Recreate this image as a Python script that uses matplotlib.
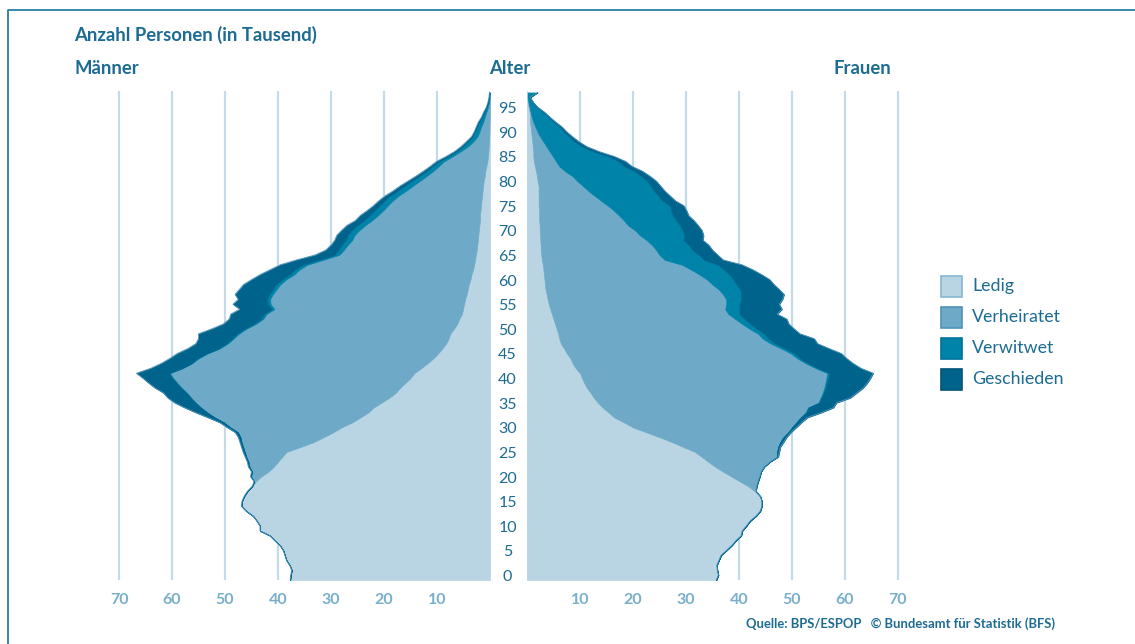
import numpy as np
import matplotlib
matplotlib.use("Agg")
import matplotlib.pyplot as plt
import matplotlib.transforms as mtransforms
from matplotlib.patches import Rectangle
from matplotlib.lines import Line2D

plt.rcParams['font.family'] = ['Lato', 'DejaVu Sans']

# ages 0..99 (99 = 99+)
ages = list(range(100))

# Männer, in Tausend
m_ledig = [37.7, 37.6, 37.4, 37.8, 38.4, 38.7, 39.0, 39.6, 40.6, 41.5,
           43.4, 43.4, 44.0, 44.7, 46.0, 46.9, 46.8, 46.4, 45.8, 44.9,
           44.2, 43.2, 41.8, 40.8, 40.0, 39.2, 38.4, 35.8, 33.3, 31.4,
           29.6, 28.0, 26.0, 24.5, 23.0, 22.0, 20.5, 19.0, 17.8, 17.0,
           16.0, 15.0, 14.3, 13.0, 11.8, 10.7, 9.8, 9.0, 8.3, 7.8,
           7.5, 6.8, 6.2, 5.8, 5.3, 5.1, 4.9, 4.7, 4.4, 4.2,
           4.0, 3.7, 3.5, 3.2, 3.0, 2.8, 2.7, 2.5, 2.4, 2.3,
           2.2, 2.1, 2.0, 1.9, 1.9, 1.8, 1.7, 1.6, 1.5, 1.4,
           1.3, 1.2, 1.0, 0.9, 0.7, 0.5, 0.4, 0.3, 0.25, 0.2,
           0.15, 0.12, 0.1, 0.08, 0.06, 0.05, 0.03, 0.02, 0.01, 0.0]
m_verh = [0, 0, 0, 0, 0, 0, 0, 0, 0, 0,
          0, 0, 0, 0, 0, 0, 0, 0, 0, 0,
          0.3, 1.9, 3.1, 4.6, 5.6, 6.8, 7.9, 10.8, 13.6, 15.7,
          18.0, 21.0, 24.2, 27.4, 30.3, 32.5, 35.0, 37.4, 39.4, 41.2,
          43.0, 44.8, 46.1, 45.0, 44.4, 44.3, 43.5, 42.0, 41.2, 40.6,
          39.9, 39.2, 38.0, 37.0, 36.9, 35.6, 36.5, 36.8, 36.6, 36.1,
          35.6, 34.8, 33.5, 32.8, 31.5, 28.7, 25.8, 25.1, 24.5, 23.7,
          23.4, 22.6, 21.6, 20.4, 19.3, 18.4, 17.6, 16.8, 15.8, 14.5,
          13.3, 12.1, 11.0, 9.9, 9.0, 8.2, 6.7, 5.3, 3.95, 3.0,
          2.25, 1.88, 1.6, 1.22, 0.94, 0.65, 0.37, 0.18, 0.09, 0.05]
m_verw = [0, 0, 0, 0, 0, 0, 0, 0, 0, 0,
          0, 0, 0, 0, 0, 0, 0, 0, 0, 0,
          0, 0, 0, 0, 0, 0, 0, 0, 0, 0,
          0.0, 0.05, 0.05, 0.1, 0.1, 0.1, 0.1, 0.1, 0.1, 0.15,
          0.15, 0.2, 0.2, 0.2, 0.2, 0.25, 0.25, 0.3, 0.3, 0.3,
          0.35, 0.35, 0.4, 0.4, 0.45, 0.5, 0.55, 0.6, 0.65, 0.7,
          0.8, 0.8, 0.85, 0.9, 0.9, 0.9, 0.9, 1.0, 1.1, 1.2,
          1.3, 1.4, 1.5, 1.5, 1.6, 1.6, 1.6, 1.6, 1.6, 1.6,
          1.6, 1.5, 1.4, 1.3, 1.2, 1.0, 0.9, 0.9, 1.0, 1.0,
          1.0, 0.9, 0.8, 0.8, 0.55, 0.45, 0.28, 0.18, 0.09, 0.05]
m_gesch = [0, 0, 0, 0, 0, 0, 0, 0, 0, 0,
           0, 0, 0, 0, 0, 0, 0, 0, 0, 0,
           0.0, 0.1, 0.1, 0.2, 0.2, 0.2, 0.3, 0.3, 0.3, 0.4,
           0.5, 0.55, 0.75, 1.2, 2.1, 3.0, 3.9, 4.3, 4.3, 4.85,
           5.25, 5.5, 6.1, 5.8, 5.6, 5.15, 5.45, 5.7, 5.7, 6.3,
           7.25, 6.15, 5.7, 6.0, 6.25, 6.0, 6.55, 5.4, 6.45, 6.3,
           6.1, 5.7, 5.55, 4.6, 4.2, 4.1, 3.6, 2.4, 2.0, 2.1,
           2.0, 1.9, 1.9, 1.6, 1.7, 1.4, 1.1, 1.0, 0.9, 0.8,
           0.8, 0.7, 0.6, 0.5, 0.4, 0.4, 0.3, 0.2, 0.3, 0.3,
           0.1, 0.1, 0.1, 0.1, 0.05, 0.05, 0.02, 0.02, 0.01, 0.0]

# Frauen, in Tausend
w_ledig = [35.7, 36.1, 35.9, 35.8, 36.2, 36.6, 37.6, 38.6, 39.4, 40.4,
           40.6, 41.4, 42.1, 43.2, 44.0, 44.3, 44.3, 44.0, 43.0, 41.8,
           40.2, 38.6, 37.0, 35.5, 34.2, 33.0, 31.7, 29.5, 27.4, 25.0,
           22.5, 20.0, 18.3, 16.5, 15.4, 14.3, 13.4, 12.6, 12.0, 11.3,
           10.8, 10.4, 10.0, 9.2, 8.6, 8.2, 7.5, 7.0, 6.4, 6.1,
           5.9, 5.6, 5.3, 5.0, 4.7, 4.4, 4.1, 3.9, 3.7, 3.5,
           3.4, 3.3, 3.2, 3.1, 3.0, 2.8, 2.7, 2.6, 2.6, 2.5,
           2.5, 2.4, 2.4, 2.3, 2.3, 2.3, 2.2, 2.2, 2.2, 2.2,
           2.2, 2.0, 1.9, 1.7, 1.5, 1.3, 1.2, 1.2, 1.1, 1.0,
           0.9, 0.8, 0.7, 0.6, 0.6, 0.5, 0.3, 0.2, 0.1, 0.1]
w_verh = [0, 0, 0, 0, 0, 0, 0, 0, 0, 0,
          0, 0, 0, 0, 0, 0, 0, 0, 0.2, 1.5,
          3.4, 5.3, 7.15, 9.2, 11.6, 14.2, 15.5, 17.9, 20.4, 23.4,
          26.8, 30.0, 32.5, 35.1, 37.2, 38.7, 41.6, 42.8, 43.8, 44.8,
          45.5, 46.1, 46.7, 45.3, 44.0, 42.8, 42.3, 41.0, 39.6, 38.4,
          37.7, 36.4, 35.3, 34.3, 33.3, 33.0, 33.5, 33.7, 33.3, 32.7,
          31.6, 30.7, 29.4, 27.9, 26.3, 23.2, 22.3, 21.8, 21.0, 20.1,
          18.8, 18.0, 16.7, 16.0, 15.1, 14.1, 13.1, 11.8, 10.6, 9.4,
          8.4, 7.5, 6.7, 5.5, 4.6, 4.2, 3.7, 3.1, 2.6, 2.1,
          1.6, 1.2, 0.9, 0.6, 0.3, 0.2, 0.2, 0.1, 0.05, 0.1]
w_verw = [0, 0, 0, 0, 0, 0, 0, 0, 0, 0,
          0, 0, 0, 0, 0, 0, 0, 0, 0, 0,
          0, 0, 0, 0, 0, 0, 0, 0, 0, 0,
          0.05, 0.05, 0.1, 0.1, 0.1, 0.15, 0.15, 0.2, 0.2, 0.3,
          0.3, 0.35, 0.4, 0.45, 0.5, 0.6, 0.7, 0.8, 0.9, 1.1,
          1.2, 1.4, 1.6, 1.8, 2.1, 2.7, 2.5, 2.8, 3.4, 4.0,
          4.6, 5.0, 5.6, 6.2, 6.8, 7.4, 7.5, 6.8, 7.0, 7.0,
          8.4, 9.0, 9.8, 9.9, 10.1, 10.8, 11.7, 11.6, 12.0, 12.4,
          12.8, 13.2, 13.0, 13.1, 12.3, 11.8, 10.5, 8.3, 6.7, 5.9,
          5.5, 5.0, 4.6, 3.9, 3.15, 2.4, 1.4, 0.8, 0.4, 1.7]
w_gesch = [0, 0, 0, 0, 0, 0, 0, 0, 0, 0,
           0, 0, 0, 0, 0, 0, 0, 0, 0, 0,
           0, 0, 0.05, 0.1, 0.1, 0.2, 0.4, 0.4, 0.6, 0.6,
           0.45, 0.75, 0.9, 1.2, 2.8, 4.65, 3.25, 5.4, 6.2, 7.0,
           7.6, 7.95, 8.2, 8.05, 8.4, 8.7, 8.8, 8.2, 7.9, 8.6,
           6.7, 7.0, 7.2, 7.9, 7.1, 8.0, 7.5, 7.8, 8.1, 7.4,
           7.0, 6.8, 6.1, 5.4, 4.5, 3.6, 3.5, 3.8, 3.7, 3.6,
           3.6, 3.6, 3.4, 3.3, 3.0, 2.9, 2.6, 2.4, 2.2, 2.0,
           1.8, 1.7, 1.6, 1.5, 1.4, 1.3, 1.1, 1.0, 0.9, 0.8,
           0.6, 0.5, 0.4, 0.3, 0.25, 0.2, 0.1, 0.1, 0.05, 0.1]

categories = ['Ledig', 'Verheiratet', 'Verwitwet', 'Geschieden']
colors = ['#b9d5e3', '#6eaac8', '#0083a9', '#00638c']
edge_colors = ['#86b8d2', '#4f93b9', '#00729a', '#005478']
x_ticks = [0, 10, 20, 30, 40, 50, 60, 70]
x_labels = ['', '10', '20', '30', '40', '50', '60', '70']
age_ticks = list(range(0, 100, 5))

text_col = '#1c6b93'
tick_col = '#78afca'
grid_col = '#c3dbe9'

W, H = 1135, 644
fig = plt.figure(figsize=(W / 100, H / 100), dpi=100)


def px_axes(x0, x1, ytop, ybot):
    return fig.add_axes([x0 / W, 1 - ybot / H, (x1 - x0) / W, (ybot - ytop) / H])


XMAX = 72
ax_m = px_axes(490 - XMAX * 5.3, 490, 90.5, 580)
ax_w = px_axes(527, 527 + XMAX * 5.3, 90.5, 580)


def draw_side(ax, series):
    lower = np.zeros(len(ages))
    for vals, c in zip(series, colors):
        upper = lower + np.array(vals)
        ax.fill_betweenx(ages, lower, upper, facecolor=c, edgecolor=c,
                         linewidth=0.5, zorder=2)
        lower = upper
    ax.plot(lower, ages, color=edge_colors[1], linewidth=0.6, zorder=3)
    ax.set_ylim(0, 99.4)
    ax.set_xticks(x_ticks)
    ax.set_xticklabels(x_labels)
    ax.grid(axis='x', color=grid_col, linewidth=1.6, zorder=0)
    ax.set_axisbelow(True)
    ax.set_yticks([])
    ax.tick_params(axis='x', length=0, pad=9, labelcolor=tick_col, labelsize=11.5)
    for lab in ax.get_xticklabels():
        lab.set_fontweight('bold')
    for s in ax.spines.values():
        s.set_visible(False)


draw_side(ax_m, [m_ledig, m_verh, m_verw, m_gesch])
ax_m.set_xlim(XMAX, 0)
draw_side(ax_w, [w_ledig, w_verh, w_verw, w_gesch])
ax_w.set_xlim(0, XMAX)

# age labels in the middle
trans = mtransforms.blended_transform_factory(ax_w.transAxes, ax_w.transData)
xc = (507.5 - 527) / (XMAX * 5.3)
for a in age_ticks:
    ax_w.text(xc, a + 0.6, str(a), transform=trans, ha='center', va='center',
              fontsize=11.5, color=text_col, clip_on=False)


def ftext(x, y, s, **kw):
    fig.text(x / W, 1 - y / H, s, **kw)


ftext(74, 35, 'Anzahl Personen (in Tausend)', fontsize=13.3, fontweight='bold',
      color=text_col, va='center', ha='left')
ftext(75, 68, 'Männer', fontsize=13.3, fontweight='bold', color=text_col, va='center')
ftext(510, 68, 'Alter', fontsize=13.3, fontweight='bold', color=text_col,
      va='center', ha='center')
ftext(862, 68, 'Frauen', fontsize=13.3, fontweight='bold', color=text_col,
      va='center', ha='center')
ftext(1055, 624, 'Quelle: BPS/ESPOP   \u00a9 Bundesamt für Statistik (BFS)',
      fontsize=9.4, fontweight='bold', color=text_col, va='center', ha='right')

# legend (squares and labels)
for i, (lab, c, ec) in enumerate(zip(categories, colors, edge_colors)):
    yc = 286 + i * 31
    fig.add_artist(Rectangle((941 / W, 1 - (yc + 10.5) / H), 21 / W, 21 / H,
                             transform=fig.transFigure, facecolor=c,
                             edgecolor=ec, linewidth=1.2))
    ftext(972, yc, lab, fontsize=12.8, color=text_col, va='center', ha='left')

# frame around the graphic
fig.add_artist(Line2D([8 / W, 8 / W, 1.0], [0.0, 1 - 10 / H, 1 - 10 / H],
                      transform=fig.transFigure, color='#2a7ea0', linewidth=1.3))

fig.savefig('out.png', dpi=100)
